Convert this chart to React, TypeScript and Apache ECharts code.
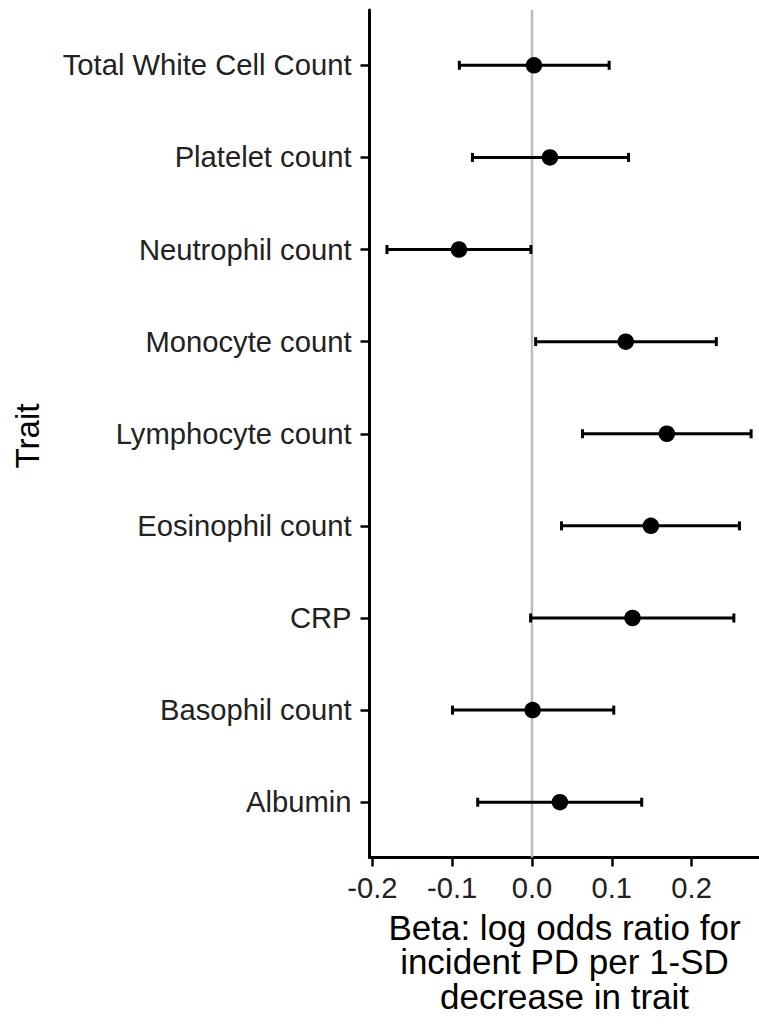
import React, { useEffect, useRef } from 'react';
import * as echarts from 'echarts';

const traits = [
  'Total White Cell Count',
  'Platelet count',
  'Neutrophil count',
  'Monocyte count',
  'Lymphocyte count',
  'Eosinophil count',
  'CRP',
  'Basophil count',
  'Albumin',
];
const beta = [0.0025, 0.0225, -0.0915, 0.1175, 0.169, 0.149, 0.126, 0.0008, 0.035];
const lower = [-0.091, -0.0746, -0.1817, 0.0046, 0.0633, 0.037, -0.0017, -0.0996, -0.068];
const upper = [0.0967, 0.121, -0.0013, 0.231, 0.2746, 0.26, 0.253, 0.1025, 0.1375];
const xTicks = [-0.2, -0.1, 0, 0.1, 0.2];
const yTicks = [1, 2, 3, 4, 5, 6, 7, 8, 9];
const xTitleLines = ['Beta: log odds ratio for', 'incident PD per 1-SD', 'decrease in trait'];
const yTitle = 'Trait';

const FONT = '"Liberation Sans", Arial, Helvetica, sans-serif';

export default function App() {
  const ref = useRef<HTMLDivElement>(null);
  useEffect(() => {
    if (!ref.current) return;
    const chart = echarts.init(ref.current, null, { renderer: 'svg' });
    chart.setOption({
      animation: false,
      backgroundColor: '#ffffff',
      textStyle: { fontFamily: FONT },
      grid: { left: 369.5, right: 0, top: 10, bottom: 170.5, containLabel: false },
      xAxis: {
        type: 'value',
        min: -0.2036,
        max: 0.2845,
        axisLine: { show: true, onZero: false, lineStyle: { color: '#000', width: 3 } },
        axisTick: { show: true, customValues: xTicks, length: 9, lineStyle: { color: '#000', width: 2.5 } },
        axisLabel: {
          customValues: xTicks,
          formatter: (v: number) => v.toFixed(1),
          fontSize: 29.2,
          color: '#222',
          fontFamily: FONT,
          margin: 16,
        },
        splitLine: { show: false },
      },
      yAxis: {
        type: 'value',
        min: 0.4,
        max: 9.6,
        inverse: true,
        axisLine: { show: true, onZero: false, lineStyle: { color: '#000', width: 3 } },
        axisTick: { show: true, customValues: yTicks, length: 9, lineStyle: { color: '#000', width: 2.5 } },
        axisLabel: {
          customValues: yTicks,
          formatter: (v: number) => traits[Math.round(v) - 1] || '',
          fontSize: 29.2,
          color: '#222',
          fontFamily: FONT,
          margin: 18,
        },
        splitLine: { show: false },
      },
      graphic: [
        {
          type: 'text',
          x: 27,
          y: 436,
          rotation: Math.PI / 2,
          style: {
            text: yTitle,
            fontSize: 33,
            fontFamily: FONT,
            fill: '#000',
            textAlign: 'center',
            textVerticalAlign: 'middle',
          },
        },
        ...xTitleLines.map((t, i) => ({
          type: 'text',
          x: 564.5,
          y: 927 + i * 34.5,
          style: {
            text: t,
            fontSize: 35,
            fontFamily: FONT,
            fill: '#000',
            textAlign: 'center',
            textVerticalAlign: 'middle',
          },
        })),
      ],
      series: [
        {
          type: 'line',
          z: 1,
          data: [[0, 0.4], [0, 9.6]],
          showSymbol: false,
          symbol: 'none',
          lineStyle: { color: '#bcbcbc', width: 2.5 },
          silent: true,
        },
        {
          type: 'custom',
          z: 2,
          data: traits.map((_, i) => [lower[i], upper[i], i + 1]),
          encode: { x: [0, 1], y: 2 },
          renderItem: (params: any, api: any) => {
            const y = api.value(2);
            const p1 = api.coord([api.value(0), y]);
            const p2 = api.coord([api.value(1), y]);
            const cap = 4.5;
            const st = { stroke: '#000', lineWidth: 3 };
            return {
              type: 'group',
              children: [
                { type: 'line', shape: { x1: p1[0], y1: p1[1], x2: p2[0], y2: p2[1] }, style: st },
                { type: 'line', shape: { x1: p1[0], y1: p1[1] - cap, x2: p1[0], y2: p1[1] + cap }, style: st },
                { type: 'line', shape: { x1: p2[0], y1: p2[1] - cap, x2: p2[0], y2: p2[1] + cap }, style: st },
              ],
            };
          },
        },
        {
          type: 'scatter',
          z: 3,
          data: beta.map((b, i) => [b, i + 1]),
          symbol: 'circle',
          symbolSize: 16.5,
          itemStyle: { color: '#000', opacity: 1 },
        },
      ],
    });
    return () => chart.dispose();
  }, []);
  return (
    <div
      ref={ref}
      style={{ position: 'absolute', left: 0, top: 0, width: 759, height: 1028 }}
    />
  );
}
